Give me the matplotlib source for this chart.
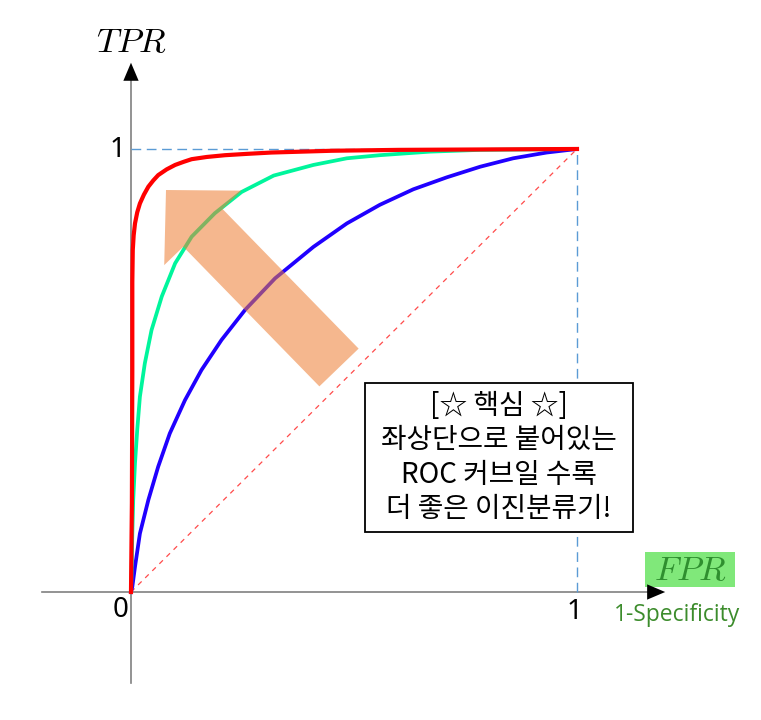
import matplotlib.pyplot as plt
from matplotlib.patches import FancyArrow, Rectangle

plt.rcParams['mathtext.fontset'] = 'cm'

# ROC curves (FPR, TPR)
red_fpr = [0.0, 0.002, 0.003, 0.003, 0.004, 0.006, 0.009, 0.014, 0.020, 0.029, 0.039, 0.050, 0.061,
           0.080, 0.099, 0.118, 0.136, 0.170, 0.211, 0.260, 0.315, 0.450, 0.600, 0.800, 1.0]
red_tpr = [0.0, 0.200, 0.500, 0.700, 0.772, 0.805, 0.832, 0.857, 0.877, 0.897, 0.915, 0.929, 0.941,
           0.954, 0.964, 0.971, 0.977, 0.982, 0.986, 0.989, 0.992, 0.996, 0.998, 0.999, 1.0]

green_fpr = [0.0, 0.0015, 0.003, 0.005, 0.009, 0.014, 0.020, 0.031, 0.046, 0.069, 0.099, 0.136,
             0.188, 0.248, 0.320, 0.409, 0.484, 0.558, 0.670, 0.783, 0.895, 1.0]
green_tpr = [0.0, 0.050, 0.132, 0.208, 0.291, 0.366, 0.441, 0.516, 0.591, 0.667, 0.742, 0.802,
             0.855, 0.903, 0.940, 0.964, 0.979, 0.986, 0.994, 0.998, 0.999, 1.0]

blue_fpr = [0.0, 0.003, 0.009, 0.020, 0.039, 0.061, 0.087, 0.121, 0.158, 0.203, 0.256, 0.323,
            0.409, 0.484, 0.558, 0.633, 0.708, 0.783, 0.857, 0.932, 1.0]
blue_tpr = [0.0, 0.012, 0.057, 0.132, 0.208, 0.283, 0.358, 0.433, 0.501, 0.569, 0.637, 0.708,
            0.779, 0.832, 0.874, 0.909, 0.936, 0.960, 0.979, 0.992, 1.0]

tick_vals = [0, 1]
note_lines = ['[☆ 핵심 ☆]', '좌상단으로 붙어있는', 'ROC 커브일 수록', '더 좋은 이진분류기!']

fig = plt.figure(figsize=(7.61, 7.2), dpi=100)
ax = fig.add_axes([0, 0, 1, 1])
ax.set_xlim(-0.2937, 1.4126)
ax.set_ylim(-0.2889, 1.3363)
ax.axis('off')

# axes with arrow heads
ax.plot([-0.20, 1.17], [0, 0], color='#808080', lw=1.2, zorder=1)
ax.plot([0, 0], [-0.205, 1.16], color='#808080', lw=1.2, zorder=1)
arrow_head = dict(arrowstyle='-|>,head_length=1.3,head_width=0.55', color='black', lw=0)
ax.annotate('', xy=(1.204, 0), xytext=(1.14, 0), arrowprops=arrow_head, zorder=10)
ax.annotate('', xy=(0, 1.201), xytext=(0, 1.14), arrowprops=arrow_head, zorder=10)

# guide lines
ax.plot([0, 1], [1, 1], color='#5B9BD5', lw=1, dashes=(7, 4), zorder=1)
ax.plot([1, 1], [0, 1], color='#5B9BD5', lw=1, dashes=(7, 4), zorder=1)
ax.plot([0, 1], [0, 1], color='#FF4B4B', lw=0.9, dashes=(4, 4), zorder=2)

ax.plot(blue_fpr, blue_tpr, color='#2000FF', lw=2.7, zorder=3, solid_joinstyle='round')
ax.plot(green_fpr, green_tpr, color='#00F59C', lw=2.7, zorder=4, solid_joinstyle='round')
ax.plot(red_fpr, red_tpr, color='#FF0000', lw=3, zorder=5, solid_joinstyle='round')

# big arrow pointing to the upper-left corner
ax.add_patch(FancyArrow(0.4664, 0.5068, -0.3879, 0.4006, width=0.1225, head_width=0.2416,
                        head_length=0.119, length_includes_head=True,
                        color='#ED7D31', alpha=0.55, lw=0, zorder=6))

# tick labels
ax.text(-0.0224, -0.040, str(tick_vals[0]), fontsize=20, family='Noto Sans', ha='center', va='center')
ax.text(0.9955, -0.045, str(tick_vals[1]), fontsize=20, family='Noto Sans', ha='center', va='center')
ax.text(-0.0303, 0.9966, str(tick_vals[1]), fontsize=20, family='Noto Sans', ha='center', va='center')

# axis titles
ax.text(0, 1.2415, '$TPR$', fontsize=25, ha='center', va='center')
ax.add_patch(Rectangle((1.1525, 0.0113), 0.2018, 0.079, fc='#80E87A', ec='none', zorder=8))
ax.text(1.2545, 0.050, '$FPR$', fontsize=25, color='#2F8F2F', ha='center', va='center', zorder=9)
ax.text(1.2242, -0.052, '1-Specificity', fontsize=16.5, family='Open Sans', color='#3C8C2C',
        ha='center', va='center')

# note box
ax.add_patch(Rectangle((0.5247, 0.1354), 0.6009, 0.3364, fc='white', ec='black', lw=1.3, zorder=7))
ax.text(0.8251, 0.3036, '\n'.join(note_lines), fontsize=20, ha='center', va='center',
        family=['Noto Sans CJK KR', 'DejaVu Sans'], linespacing=1.2, zorder=8)

fig.savefig('out.png', dpi=100)
